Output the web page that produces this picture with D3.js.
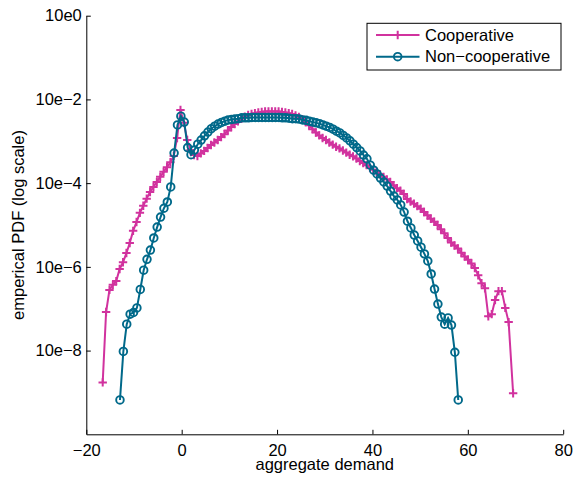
<!DOCTYPE html>
<html>
<head>
<meta charset="utf-8">
<script src="https://cdn.jsdelivr.net/npm/d3@7"></script>
<style>
    body { margin: 0; background: #fff; }
    svg { display: block; font-family: "Liberation Sans", Arial, sans-serif; }
    .axis path, .axis line { stroke: #000; }
    .axis text { font-size: 16.5px; fill: #000; font-family: "Liberation Sans", Arial, sans-serif; }
</style>
</head>
<body>
<div id="chart"></div>
<script>
const coopDemand = [-16.56, -15.85, -15.14, -14.43, -13.72, -13.01, -12.30, -11.59, -10.89, -10.18,
    -9.47, -8.76, -8.05, -7.34, -6.63, -5.92, -5.21, -4.50, -3.79, -3.08,
    -2.37, -1.66, -0.96, -0.25, 0.46, 1.17, 1.88, 2.59, 3.30, 4.01,
    4.72, 5.43, 6.14, 6.85, 7.56, 8.27, 8.97, 9.68, 10.39, 11.10,
    11.81, 12.52, 13.23, 13.94, 14.65, 15.36, 16.07, 16.78, 17.49, 18.20,
    18.91, 19.61, 20.32, 21.03, 21.74, 22.45, 23.16, 23.87, 24.58, 25.29,
    26.00, 26.71, 27.42, 28.13, 28.84, 29.54, 30.25, 30.96, 31.67, 32.38,
    33.09, 33.80, 34.51, 35.22, 35.93, 36.64, 37.35, 38.06, 38.77, 39.47,
    40.18, 40.89, 41.60, 42.31, 43.02, 43.73, 44.44, 45.15, 45.86, 46.57,
    47.28, 47.99, 48.70, 49.40, 50.11, 50.82, 51.53, 52.24, 52.95, 53.66,
    54.37, 55.08, 55.79, 56.50, 57.21, 57.92, 58.63, 59.34, 60.04, 60.75,
    61.46, 62.17, 62.88, 63.59, 64.30, 65.01, 65.72, 66.43, 67.14, 67.85,
    68.56, 69.50];
const coopLogPdf = [-8.76, -7.08, -6.55, -6.43, -6.34, -6.05, -5.89, -5.67, -5.43, -5.14,
    -4.93, -4.71, -4.54, -4.37, -4.21, -4.09, -3.97, -3.85, -3.73, -3.62,
    -3.50, -3.35, -2.92, -2.25, -2.56, -2.97, -3.21, -3.33, -3.35, -3.29,
    -3.23, -3.16, -3.09, -3.03, -2.97, -2.90, -2.83, -2.74, -2.66, -2.59,
    -2.52, -2.46, -2.41, -2.37, -2.35, -2.33, -2.31, -2.30, -2.29, -2.29,
    -2.29, -2.29, -2.29, -2.30, -2.31, -2.33, -2.35, -2.38, -2.42, -2.47,
    -2.54, -2.62, -2.71, -2.79, -2.86, -2.92, -2.97, -3.03, -3.08, -3.13,
    -3.17, -3.22, -3.27, -3.32, -3.36, -3.41, -3.47, -3.52, -3.57, -3.63,
    -3.68, -3.73, -3.79, -3.85, -3.91, -3.97, -4.05, -4.12, -4.18, -4.26,
    -4.38, -4.44, -4.49, -4.55, -4.61, -4.69, -4.77, -4.85, -4.92, -5.00,
    -5.10, -5.20, -5.31, -5.42, -5.49, -5.56, -5.66, -5.75, -5.83, -5.92,
    -6.03, -6.20, -6.39, -6.51, -7.18, -7.13, -6.79, -6.58, -6.58, -6.98,
    -7.32, -9.02];

const nonCoopDemand = [-12.94, -12.23, -11.52, -10.81, -10.10, -9.39, -8.68, -7.97, -7.27, -6.56,
    -5.85, -5.14, -4.43, -3.72, -3.01, -2.30, -1.59, -0.88, -0.17, 0.54,
    1.25, 1.96, 2.66, 3.37, 4.08, 4.79, 5.50, 6.21, 6.92, 7.63,
    8.34, 9.05, 9.76, 10.47, 11.18, 11.89, 12.59, 13.30, 14.01, 14.72,
    15.43, 16.14, 16.85, 17.56, 18.27, 18.98, 19.69, 20.40, 21.11, 21.82,
    22.53, 23.23, 23.94, 24.65, 25.36, 26.07, 26.78, 27.49, 28.20, 28.91,
    29.62, 30.33, 31.04, 31.75, 32.46, 33.16, 33.87, 34.58, 35.29, 36.00,
    36.71, 37.42, 38.13, 38.84, 39.55, 40.26, 40.97, 41.68, 42.39, 43.09,
    43.80, 44.51, 45.22, 45.93, 46.64, 47.35, 48.06, 48.77, 49.48, 50.19,
    50.90, 51.61, 52.32, 53.02, 53.73, 54.44, 55.15, 55.86, 56.57, 57.28,
    57.99];
const nonCoopLogPdf = [-9.18, -8.02, -7.37, -7.13, -7.09, -6.98, -6.54, -6.08, -5.82, -5.60,
    -5.31, -5.05, -4.81, -4.60, -4.45, -4.09, -3.28, -2.61, -2.40, -2.54,
    -3.15, -3.32, -3.21, -3.07, -2.97, -2.87, -2.78, -2.70, -2.64, -2.59,
    -2.55, -2.52, -2.49, -2.48, -2.47, -2.46, -2.44, -2.44, -2.44, -2.43,
    -2.43, -2.43, -2.43, -2.43, -2.43, -2.43, -2.43, -2.43, -2.44, -2.44,
    -2.45, -2.46, -2.46, -2.47, -2.49, -2.50, -2.52, -2.54, -2.56, -2.58,
    -2.61, -2.64, -2.67, -2.71, -2.76, -2.80, -2.86, -2.92, -2.99, -3.07,
    -3.15, -3.23, -3.33, -3.42, -3.57, -3.69, -3.78, -3.88, -3.97, -4.07,
    -4.19, -4.31, -4.40, -4.52, -4.69, -4.91, -5.07, -5.24, -5.38, -5.53,
    -5.69, -5.86, -6.17, -6.53, -6.89, -7.20, -7.37, -7.22, -7.39, -8.04,
    -9.18];

const xTicks = [-20, 0, 20, 40, 60, 80];
const yTicks = [1, 1e-2, 1e-4, 1e-6, 1e-8];
const seriesNames = ["Cooperative", "Non\u2212cooperative"];

const params = {
    width: 574,
    height: 483,
    margin: {top: 15.7, right: 10.8, bottom: 48.7, left: 86.3},
    colors: ["#d1329e", "#00698a"]
};

const svg = d3.select("#chart")
    .append("svg")
    .attr("width", params.width)
    .attr("height", params.height);

const xScale = d3.scaleLinear()
    .domain([-20, 80])
    .range([params.margin.left, params.width - params.margin.right]);

const yScale = d3.scaleLog()
    .domain([1e-10, 1])
    .range([params.height - params.margin.bottom, params.margin.top]);

// axes, ticks pointing inwards like matlab
svg.append("g")
    .attr("class", "axis")
    .attr("transform", `translate(0, ${params.height - params.margin.bottom})`)
    .call(d3.axisBottom(xScale).tickValues(xTicks).tickSize(-4.5).tickSizeOuter(0).tickPadding(10));

svg.append("g")
    .attr("class", "axis")
    .attr("transform", `translate(${params.margin.left}, 0)`)
    .call(d3.axisLeft(yScale).tickValues(yTicks).tickSize(-4.5).tickSizeOuter(0).tickPadding(4.5)
        .tickFormat(d => "10e" + String(Math.round(Math.log10(d))).replace("-", "\u2212")));

svg.append("text")
    .attr("x", xScale(30))
    .attr("y", 469.8)
    .attr("text-anchor", "middle")
    .style("font-size", "16.5px")
    .text("aggregate demand");

svg.append("text")
    .attr("transform", `translate(23.5, ${yScale(1e-5)}) rotate(-90)`)
    .attr("text-anchor", "middle")
    .style("font-size", "16.5px")
    .text("emperical PDF (log scale)");

const line = d3.line()
    .x(d => xScale(d[0]))
    .y(d => yScale(d[1]));

const coop = coopDemand.map((x, i) => [x, Math.pow(10, coopLogPdf[i])]);
const nonCoop = nonCoopDemand.map((x, i) => [x, Math.pow(10, nonCoopLogPdf[i])]);

const plusPath = "M-4.2,0H4.2M0,-4.2V4.2";

function drawSeries(data, color, marker) {
    let g = svg.append("g");
    g.append("path")
        .datum(data)
        .attr("d", line)
        .attr("fill", "none")
        .attr("stroke", color)
        .attr("stroke-width", 2);

    if (marker === "plus") {
        g.selectAll("path.mk")
            .data(data)
            .join("path")
            .attr("class", "mk")
            .attr("transform", d => `translate(${xScale(d[0])}, ${yScale(d[1])})`)
            .attr("d", plusPath)
            .attr("stroke", color)
            .attr("stroke-width", 2);
    } else {
        g.selectAll("circle")
            .data(data)
            .join("circle")
            .attr("cx", d => xScale(d[0]))
            .attr("cy", d => yScale(d[1]))
            .attr("r", 3.8)
            .attr("fill", "none")
            .attr("stroke", color)
            .attr("stroke-width", 1.9);
    }
}

drawSeries(coop, params.colors[0], "plus");
drawSeries(nonCoop, params.colors[1], "circle");

// Legend
const legend = svg.append("g");
legend.append("rect")
    .attr("x", 367)
    .attr("y", 23.3)
    .attr("width", 194)
    .attr("height", 46.7)
    .attr("fill", "#fff")
    .attr("stroke", "#000")
    .attr("stroke-width", 1);

seriesNames.forEach((name, i) => {
    let yy = 35 + i * 21.7;
    legend.append("line")
        .attr("x1", 376).attr("x2", 419.5)
        .attr("y1", yy).attr("y2", yy)
        .attr("stroke", params.colors[i])
        .attr("stroke-width", 2);
    if (i === 0) {
        legend.append("path")
            .attr("transform", `translate(397.7, ${yy})`)
            .attr("d", plusPath)
            .attr("stroke", params.colors[i])
            .attr("stroke-width", 2);
    } else {
        legend.append("circle")
            .attr("cx", 397.7).attr("cy", yy).attr("r", 3.8)
            .attr("fill", "none")
            .attr("stroke", params.colors[i])
            .attr("stroke-width", 1.9);
    }
    legend.append("text")
        .attr("x", 425)
        .attr("y", yy)
        .attr("dy", "0.35em")
        .style("font-size", "16.5px")
        .text(name);
});
</script>
</body>
</html>
